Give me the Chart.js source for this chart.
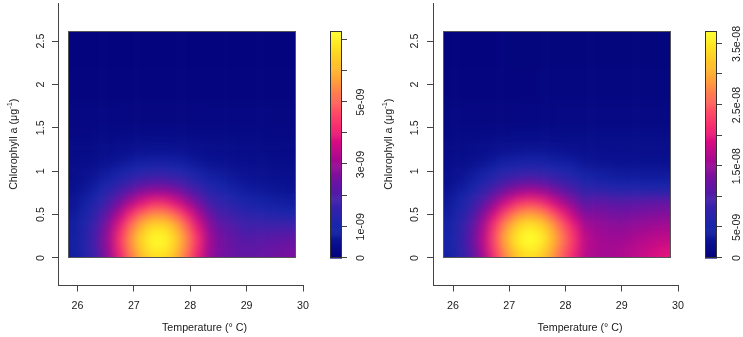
<!DOCTYPE html>
<html><head><meta charset="utf-8">
<script src="https://cdn.jsdelivr.net/npm/chart.js@4.4.1/dist/chart.umd.min.js"></script>
<style>
html,body{margin:0;padding:0;background:#fff;}
#wrap{position:relative;width:743px;height:337px;overflow:hidden;}
#c1{position:absolute;left:0;top:0;}
#c2{position:absolute;left:372px;top:0;}
</style></head><body>
<div id="wrap">
<canvas id="c1" width="372" height="337"></canvas>
<canvas id="c2" width="371" height="337"></canvas>
</div>
<script>
// ---- data ----
const xEdges = [25.835, 26.04, 26.24, 26.44, 26.64, 26.84, 27.04, 27.24, 27.44, 27.64, 27.84, 28.04, 28.24, 28.44, 28.64, 28.84, 29.04, 29.24, 29.44, 29.64, 29.87];
const yEdges = [0, 0.1, 0.2, 0.3, 0.4, 0.5, 0.6, 0.7, 0.8, 0.9, 1.0, 1.1, 1.2, 1.3, 1.4, 1.5, 1.8, 2.2, 2.615];
const xTickValues = [26, 27, 28, 29, 30];
const yTickValues = [0, 0.5, 1, 1.5, 2, 2.5];
const yTickLabels = ['0', '0.5', '1', '1.5', '2', '2.5'];
const xTitle = 'Temperature (\u00B0 C)';
const yTitleMain = 'Chlorophyll a (\u03BCg';
const yTitleSup = '-1';
const yTitleEnd = ')';

// density, units of 1e-9, rows from Chl = 0 upwards, columns from 25.8 C rightwards
const densityLeft = [
 [0.82,1.26,1.94,2.88,4.04,5.23,6.20,6.76,6.73,6.13,5.11,4.01,2.98,2.56,2.40,2.30,2.30,2.40,2.50,2.60],
 [0.85,1.31,2.03,3.03,4.25,5.51,6.55,7.13,7.10,6.47,5.38,4.21,3.10,2.60,2.38,2.22,2.22,2.30,2.38,2.45],
 [0.85,1.31,2.03,3.03,4.25,5.51,6.55,7.13,7.10,6.47,5.38,4.20,3.07,2.52,2.30,2.05,2.08,2.12,2.18,2.25],
 [0.82,1.26,1.94,2.88,4.04,5.23,6.20,6.76,6.73,6.13,5.11,3.97,2.90,2.34,2.15,1.88,1.86,1.86,1.88,1.90],
 [0.77,1.16,1.77,2.61,3.64,4.71,5.58,6.07,6.05,5.51,4.60,3.58,2.62,2.09,1.92,1.66,1.58,1.52,1.48,1.42],
 [0.69,1.03,1.53,2.25,3.12,4.02,4.75,5.17,5.15,4.70,3.92,3.07,2.25,1.82,1.62,1.40,1.25,1.15,1.08,1.02],
 [0.61,0.88,1.28,1.85,2.54,3.26,3.84,4.18,4.16,3.80,3.18,2.50,1.85,1.53,1.32,1.10,0.98,0.90,0.84,0.80],
 [0.53,0.73,1.04,1.46,1.99,2.52,2.97,3.22,3.20,2.93,2.47,1.96,1.47,1.24,1.05,0.86,0.78,0.72,0.67,0.63],
 [0.46,0.60,0.82,1.13,1.50,1.88,2.19,2.37,2.36,2.17,1.84,1.48,1.13,0.99,0.84,0.70,0.64,0.60,0.55,0.52],
 [0.40,0.50,0.64,0.85,1.10,1.36,1.57,1.69,1.68,1.55,1.33,1.09,0.86,0.78,0.67,0.58,0.53,0.50,0.46,0.44],
 [0.35,0.42,0.51,0.64,0.80,0.96,1.09,1.17,1.17,1.08,0.94,0.79,0.64,0.61,0.54,0.48,0.44,0.42,0.38,0.36],
 [0.32,0.36,0.41,0.49,0.59,0.69,0.77,0.81,0.81,0.76,0.68,0.59,0.50,0.47,0.43,0.40,0.37,0.35,0.33,0.31],
 [0.28,0.30,0.33,0.38,0.43,0.49,0.53,0.56,0.56,0.53,0.48,0.44,0.40,0.38,0.36,0.34,0.32,0.30,0.28,0.27],
 [0.25,0.26,0.28,0.30,0.33,0.36,0.38,0.40,0.40,0.39,0.37,0.35,0.33,0.32,0.31,0.29,0.28,0.27,0.25,0.24],
 [0.22,0.23,0.24,0.25,0.26,0.27,0.28,0.29,0.29,0.29,0.28,0.27,0.26,0.26,0.25,0.24,0.24,0.23,0.22,0.22],
 [0.17,0.17,0.18,0.18,0.18,0.19,0.19,0.19,0.19,0.19,0.19,0.19,0.18,0.18,0.18,0.18,0.18,0.18,0.17,0.17],
 [0.12,0.12,0.12,0.12,0.12,0.12,0.12,0.12,0.12,0.12,0.12,0.12,0.12,0.12,0.12,0.12,0.12,0.12,0.12,0.12],
 [0.09,0.09,0.09,0.09,0.09,0.09,0.09,0.09,0.09,0.09,0.09,0.09,0.09,0.09,0.09,0.09,0.09,0.09,0.09,0.09]
];
const densityRight = [
 [4.71,7.26,11.12,16.29,22.24,28.06,32.50,34.46,33.38,29.60,25.07,21.02,17.2,16.2,16.0,16.4,17.0,17.9,18.8,19.8],
 [4.92,7.65,11.78,17.31,23.68,29.91,34.66,36.76,35.61,31.56,26.64,22.06,17.7,16.3,16.0,16.0,16.6,17.3,18.0,18.6],
 [4.95,7.72,11.90,17.50,23.95,30.25,35.06,37.10,36.02,31.92,26.83,22.17,17.6,16.0,15.6,15.4,15.9,16.5,17.0,17.5],
 [4.81,7.45,11.44,16.79,22.95,28.97,33.56,35.59,34.48,30.56,25.69,21.18,16.6,15.4,15.0,14.6,15.0,15.5,15.9,16.4],
 [4.52,6.91,10.51,15.34,20.91,26.35,30.50,32.33,31.32,27.78,23.37,19.26,15.1,14.5,14.0,13.6,13.9,14.3,14.6,14.9],
 [4.07,6.11,9.19,13.31,18.06,22.70,26.25,27.81,26.95,23.93,20.17,16.69,13.1,13.3,12.8,12.4,12.6,12.9,13.1,13.4],
 [3.57,5.21,7.69,11.01,14.84,18.58,21.43,22.69,22.00,19.57,16.56,13.83,10.9,11.6,11.2,10.8,11.0,11.3,11.6,11.9],
 [3.08,4.32,6.21,8.74,11.66,14.51,16.68,17.64,17.11,15.26,13.01,10.99,8.7,9.0,8.5,8.0,7.9,7.9,7.8,7.7],
 [2.63,3.53,4.89,6.71,8.81,10.87,12.43,13.12,12.74,11.41,9.81,8.42,6.6,6.3,5.8,5.4,5.3,5.2,5.2,5.2],
 [2.25,2.86,3.79,5.03,6.45,7.85,8.92,9.39,9.13,8.22,7.19,6.34,4.9,4.5,4.2,3.9,3.8,3.75,3.7,3.7],
 [1.95,2.34,2.94,3.73,4.65,5.55,6.23,6.54,6.37,5.79,5.18,4.70,3.7,3.5,3.3,3.1,3.05,3.0,3.0,3.0],
 [1.72,1.96,2.32,2.80,3.36,3.90,4.32,4.50,4.40,4.05,3.73,3.45,2.9,2.75,2.6,2.5,2.45,2.4,2.4,2.4],
 [1.51,1.65,1.86,2.14,2.46,2.78,3.02,3.12,3.06,2.88,2.70,2.52,2.38,2.28,2.20,2.12,2.07,2.05,2.05,2.05],
 [1.34,1.41,1.52,1.67,1.85,2.02,2.15,2.21,2.18,2.08,2.0,1.94,1.9,1.88,1.86,1.84,1.82,1.80,1.80,1.80],
 [1.19,1.23,1.29,1.37,1.46,1.55,1.61,1.64,1.63,1.60,1.58,1.58,1.58,1.6,1.6,1.6,1.6,1.6,1.6,1.6],
 [0.91,0.92,0.93,0.95,0.97,0.99,1.0,1.01,1.01,1.02,1.03,1.05,1.07,1.09,1.1,1.1,1.1,1.1,1.1,1.1],
 [0.62,0.62,0.62,0.62,0.62,0.63,0.63,0.64,0.65,0.66,0.67,0.68,0.69,0.70,0.71,0.72,0.72,0.72,0.72,0.72],
 [0.46,0.46,0.46,0.46,0.46,0.47,0.47,0.48,0.48,0.49,0.49,0.50,0.50,0.51,0.51,0.51,0.51,0.51,0.51,0.51]
];
const legendTicksLeft = [0, 1, 2, 3, 4, 5, 6, 7];
const legendLabelsLeft = ['0', '1e-09', '', '3e-09', '', '5e-09', '', ''];
const legendMaxLeft = 7.28;
const legendTicksRight = [0, 5, 10, 15, 20, 25, 30, 35];
const legendLabelsRight = ['0', '5e-09', '', '1.5e-08', '', '2.5e-08', '', '3.5e-08'];
const legendMaxRight = 37.1;

// ---- style ----
const paletteStops = [
 [0.00, [3, 3, 122]], [0.07, [10, 17, 144]], [0.14, [23, 38, 170]], [0.25, [64, 32, 170]],
 [0.34, [110, 18, 162]], [0.43, [164, 10, 146]], [0.52, [220, 12, 128]], [0.57, [244, 40, 114]],
 [0.65, [255, 79, 102]], [0.72, [255, 120, 82]], [0.78, [255, 158, 60]], [0.85, [255, 191, 42]],
 [0.93, [255, 226, 34]], [1.00, [255, 255, 46]]
];
const FONT_SIZE = 10.7;
const FAMILY = '"Liberation Sans", Arial, sans-serif';
const FONT = FONT_SIZE + 'px ' + FAMILY;
const TEXT = '#1a1a1a';
const AXIS = '#444';

function colorFor(f) {
  f = Math.max(0, Math.min(1, f));
  for (let i = 1; i < paletteStops.length; i++) {
    if (f <= paletteStops[i][0]) {
      const a = paletteStops[i - 1], b = paletteStops[i];
      const t = (f - a[0]) / (b[0] - a[0]);
      const c = a[1].map((v, k) => Math.round(v + (b[1][k] - v) * t));
      return 'rgb(' + c.join(',') + ')';
    }
  }
  const l = paletteStops[paletteStops.length - 1][1];
  return 'rgb(' + l.join(',') + ')';
}

const heatPlugin = {
  id: 'heat',
  afterDraw(chart) {
    const g = chart.options.plugins.heat;
    const ctx = chart.ctx, xs = chart.scales.x, ys = chart.scales.y;
    const nr = yEdges.length - 1, nc = xEdges.length - 1;
    const hx0 = xs.getPixelForValue(xEdges[0]), hx1 = xs.getPixelForValue(xEdges[nc]);
    const hyT = ys.getPixelForValue(yEdges[nr]), hyB = ys.getPixelForValue(yEdges[0]);
    // cells
    const off = document.createElement('canvas');
    off.width = chart.width; off.height = chart.height;
    const oc = off.getContext('2d');
    const ext = 16;
    chart.data.datasets[0].data.forEach(p => {
      let x0 = xs.getPixelForValue(xEdges[p.c]), x1 = xs.getPixelForValue(xEdges[p.c + 1]);
      let y0 = ys.getPixelForValue(yEdges[p.r + 1]), y1 = ys.getPixelForValue(yEdges[p.r]);
      if (p.c === 0) x0 -= ext;
      if (p.c === nc - 1) x1 += ext;
      if (p.r === 0) y1 += ext;
      if (p.r === nr - 1) y0 -= ext;
      oc.fillStyle = colorFor(p.v / g.vmax);
      oc.fillRect(x0, y0, x1 - x0 + 0.6, y1 - y0 + 0.6);
    });
    const L = Math.floor(hx0), R = Math.floor(hx1), T = Math.floor(hyT), B = Math.floor(hyB);
    ctx.save();
    ctx.beginPath(); ctx.rect(L, T, R - L, B - T); ctx.clip();
    ctx.filter = 'blur(' + g.blur + 'px)';
    ctx.drawImage(off, 0, 0);
    ctx.filter = 'none';
    ctx.restore();
    ctx.save();
    ctx.strokeStyle = '#555'; ctx.lineWidth = 1;
    ctx.strokeRect(L + 0.5, T + 0.5, R - L, B - T);
    ctx.restore();

    // colour legend, spanning the same value extent as the image
    const cbY = v => hyB - (v / g.vmax) * (hyB - hyT);
    const steps = 220;
    ctx.save();
    for (let i = 0; i < steps; i++) {
      const v0 = g.vmax * i / steps, v1 = g.vmax * (i + 1) / steps;
      ctx.fillStyle = colorFor((v0 + v1) / 2 / g.vmax);
      const yA = cbY(v1), yB = cbY(v0);
      ctx.fillRect(g.cbLeft, yA, g.cbRight - g.cbLeft, yB - yA + 0.6);
    }
    ctx.strokeStyle = '#333'; ctx.lineWidth = 1;
    ctx.strokeRect(g.cbLeft + 0.5, Math.round(cbY(g.vmax)) + 0.5, g.cbRight - g.cbLeft - 1, Math.round(cbY(0)) - Math.round(cbY(g.vmax)) - 1);
    ctx.strokeStyle = AXIS;
    ctx.font = FONT; ctx.fillStyle = TEXT;
    g.ticks.forEach((t, i) => {
      const y = Math.round(cbY(t)) - 0.5;
      ctx.beginPath(); ctx.moveTo(g.cbRight, y); ctx.lineTo(g.cbRight + 5, y); ctx.stroke();
      const lab = g.labels[i];
      if (lab) {
        ctx.save();
        ctx.translate(g.cbLabX + 3.8, cbY(t));
        ctx.rotate(-Math.PI / 2);
        ctx.textAlign = 'center'; ctx.textBaseline = 'alphabetic';
        ctx.fillText(lab, 0, 0);
        ctx.restore();
      }
    });
    // y tick labels (rotated, as in the original)
    ys.ticks.forEach((t, i) => {
      ctx.save();
      ctx.translate(g.yLabX + 3.8, ys.getPixelForValue(t.value));
      ctx.rotate(-Math.PI / 2);
      ctx.textAlign = 'center'; ctx.textBaseline = 'alphabetic';
      ctx.fillText(yTickLabels[i], 0, 0);
      ctx.restore();
    });
    // x title
    ctx.textAlign = 'center'; ctx.textBaseline = 'alphabetic';
    ctx.fillText(xTitle, g.xTitleX, 331);
    // y title with superscript
    ctx.save();
    ctx.translate(g.yTitleBase, (chart.chartArea.top + chart.chartArea.bottom) / 2);
    ctx.rotate(-Math.PI / 2);
    ctx.textAlign = 'left';
    const supFont = '7.5px ' + FAMILY;
    const w1 = ctx.measureText(yTitleMain).width;
    ctx.font = supFont; const w2 = ctx.measureText(yTitleSup).width;
    ctx.font = FONT; const w3 = ctx.measureText(yTitleEnd).width;
    let x = -(w1 + w2 + w3) / 2;
    ctx.fillText(yTitleMain, x, 0); x += w1;
    ctx.font = supFont; ctx.fillText(yTitleSup, x, -4.8); x += w2;
    ctx.font = FONT; ctx.fillText(yTitleEnd, x, 0);
    ctx.restore();
    ctx.restore();
  }
};

function makeChart(id, values, vmax, ticks, labels, geo) {
  const pts = [];
  for (let r = 0; r < yEdges.length - 1; r++)
    for (let c = 0; c < xEdges.length - 1; c++)
      pts.push({ x: (xEdges[c] + xEdges[c + 1]) / 2, y: (yEdges[r] + yEdges[r + 1]) / 2, v: values[r][c], r: r, c: c });
  const gridOpts = { display: true, drawOnChartArea: false, drawTicks: true, tickLength: 6, color: AXIS, lineWidth: 1 };
  return new Chart(document.getElementById(id), {
    type: 'scatter',
    data: { datasets: [{ data: pts, pointRadius: 0, pointHoverRadius: 0, showLine: false }] },
    options: {
      responsive: false, animation: false, devicePixelRatio: 1, events: [],
      layout: { padding: { left: 0, right: geo.padRight, top: 3, bottom: 0 } },
      plugins: {
        legend: { display: false }, tooltip: { enabled: false },
        heat: Object.assign({ vmax: vmax, ticks: ticks, labels: labels, blur: 5 }, geo)
      },
      scales: {
        x: {
          type: 'linear', min: geo.xMin, max: 30,
          afterBuildTicks: s => { s.ticks = xTickValues.map(v => ({ value: v })); },
          afterFit: s => { s.height = 51.5; },
          ticks: { font: { family: FAMILY, size: FONT_SIZE }, color: TEXT, padding: 8, maxRotation: 0, autoSkip: false, callback: v => String(v) },
          grid: gridOpts, border: { display: true, color: AXIS, width: 1 }
        },
        y: {
          type: 'linear', min: -0.317, max: 2.938,
          afterBuildTicks: s => { s.ticks = yTickValues.map(v => ({ value: v })); },
          afterFit: s => { s.width = geo.yWidth; },
          ticks: { display: false },
          grid: gridOpts, border: { display: true, color: AXIS, width: 1 }
        }
      }
    },
    plugins: [heatPlugin]
  });
}

makeChart('c1', densityLeft, legendMaxLeft, legendTicksLeft, legendLabelsLeft,
  { padRight: 69, yWidth: 58, xMin: 25.655, cbLeft: 330, cbRight: 342, cbLabX: 360, yLabX: 39.7, xTitleX: 204.5, yTitleBase: 17.3 });
makeChart('c2', densityRight, legendMaxRight, legendTicksRight, legendLabelsRight,
  { padRight: 65, yWidth: 61, xMin: 25.644, cbLeft: 333, cbRight: 345, cbLabX: 364.5, yLabX: 42.5, xTitleX: 208, yTitleBase: 20.3 });
</script>
</body></html>
